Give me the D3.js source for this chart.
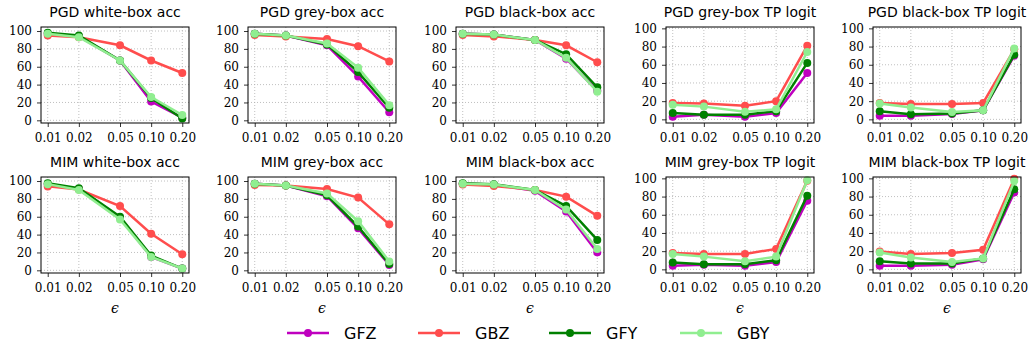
<!DOCTYPE html>
<html>
<head>
<meta charset="utf-8">
<script src="https://cdn.jsdelivr.net/npm/d3@7"></script>
<style>
  body { margin: 0; background: #fff; }
  svg { display: block; }
</style>
</head>
<body>
<svg id="chart" width="1028" height="348"></svg>
<script>
// epsilon values on the x axis
const eps = [0.01, 0.02, 0.05, 0.10, 0.20];
const seriesNames = ['GFZ', 'GBZ', 'GFY', 'GBY'];
const seriesColors = ['#bf00bf', '#ff4d4d', '#008000', '#90ee90'];
const yTicks = [0, 20, 40, 60, 80, 100];

const titles = [
  'PGD white-box acc', 'PGD grey-box acc', 'PGD black-box acc', 'PGD grey-box TP logit', 'PGD black-box TP logit',
  'MIM white-box acc', 'MIM grey-box acc', 'MIM black-box acc', 'MIM grey-box TP logit', 'MIM black-box TP logit'
];

// rows: GFZ, GBZ, GFY, GBY
const pgdWhiteAcc = [
  [97, 94, 67, 21, 3],
  [95, 93, 84, 67, 53],
  [98, 95, 67, 25, 2],
  [97, 93, 67, 26, 6]
];
const pgdGreyAcc = [
  [97, 95, 84, 49, 9],
  [95.5, 94, 91, 83, 66],
  [97, 95, 85, 54, 14],
  [97, 95, 86, 59, 17]
];
const pgdBlackAcc = [
  [97, 96, 90, 69, 33],
  [95.5, 94, 90, 84, 65],
  [97, 96, 90, 74, 37],
  [97, 96, 90, 70, 32]
];
const pgdGreyTP = [
  [3, 5, 3, 7, 51],
  [18, 17.5, 15, 20, 81],
  [7, 5, 5, 9, 62],
  [16, 14, 8.5, 11, 74]
];
const pgdBlackTP = [
  [4, 4, 6, 10, 70],
  [18, 17, 17, 18, 77],
  [9, 5.5, 6.5, 10, 71],
  [17.5, 13, 8, 10, 78]
];
const mimWhiteAcc = [
  [96, 91, 59, 15, 2],
  [94, 90.5, 72, 41, 18],
  [97.5, 92, 60, 16.5, 2],
  [96.5, 90, 57, 15, 2]
];
const mimGreyAcc = [
  [97, 95, 83, 47, 6],
  [95.5, 95, 91, 81.5, 51.5],
  [97, 95, 84, 49, 7],
  [97, 95, 86, 55, 10]
];
const mimBlackAcc = [
  [97, 96, 89, 66, 20],
  [96, 94.5, 90, 82.5, 61],
  [97.5, 96.5, 90, 72, 34],
  [97, 96, 90, 68, 24]
];
const mimGreyTP = [
  [4, 5, 4, 8, 75.5],
  [18, 17, 17, 22.5, 97.5],
  [7.5, 5.7, 5.7, 10, 81],
  [17, 14, 9, 14, 98]
];
const mimBlackTP = [
  [4, 4, 5, 11, 84.5],
  [19.5, 17, 18, 21.5, 99.5],
  [9, 6.4, 6.4, 12, 88],
  [18.5, 13, 8, 12, 97]
];

const panelData = [pgdWhiteAcc, pgdGreyAcc, pgdBlackAcc, pgdGreyTP, pgdBlackTP,
                   mimWhiteAcc, mimGreyAcc, mimBlackAcc, mimGreyTP, mimBlackTP];

const svg = d3.select('#chart');
const lefts = [41, 248, 456, 666, 873];
const tops = [27, 177];
const pw = 148, ph = 96;
const serif = '"DejaVu Serif", serif';
const sans = '"DejaVu Sans", sans-serif';

// log x with matplotlib-like 5% margins
const logPad = (Math.log10(0.2) - Math.log10(0.01)) * 0.05;
const x = d3.scaleLog()
  .domain([0.01 / Math.pow(10, logPad), 0.2 * Math.pow(10, logPad)])
  .range([0, pw]);

panelData.forEach((data, i) => {
  const row = Math.floor(i / 5), col = i % 5;
  const tp = col >= 3;
  const y = d3.scaleLinear()
    .domain(tp ? [-4, 101.5] : [-3, 104.5])
    .range([ph, 0]);

  const g = svg.append('g').attr('transform', `translate(${lefts[col]},${tops[row]})`);

  // dotted grid
  g.selectAll('.gx').data(eps).enter().append('line')
    .attr('x1', d => x(d)).attr('x2', d => x(d))
    .attr('y1', 0).attr('y2', ph)
    .attr('stroke', '#b0b0b0').attr('stroke-width', 0.8).attr('stroke-dasharray', '1,2');
  g.selectAll('.gy').data(yTicks).enter().append('line')
    .attr('x1', 0).attr('x2', pw)
    .attr('y1', d => y(d)).attr('y2', d => y(d))
    .attr('stroke', '#b0b0b0').attr('stroke-width', 0.8).attr('stroke-dasharray', '1,2');

  // series
  const line = d3.line().x((d, k) => x(eps[k])).y(d => y(d));
  data.forEach((vals, s) => {
    g.append('path')
      .attr('d', line(vals))
      .attr('fill', 'none')
      .attr('stroke', seriesColors[s])
      .attr('stroke-width', 2.5);
    g.selectAll(null).data(vals).enter().append('circle')
      .attr('cx', (d, k) => x(eps[k]))
      .attr('cy', d => y(d))
      .attr('r', 4)
      .attr('fill', seriesColors[s]);
  });

  // axes
  const ya = g.append('g')
    .call(d3.axisLeft(y).tickValues(yTicks).tickSize(4).tickPadding(5).tickSizeOuter(0));
  const xa = g.append('g').attr('transform', `translate(0,${ph})`)
    .call(d3.axisBottom(x).tickValues(eps).tickFormat(d3.format('.2f')).tickSize(4).tickPadding(6).tickSizeOuter(0));
  [ya, xa].forEach(a => {
    a.select('.domain').remove();
    a.selectAll('text').style('font-family', serif).style('font-size', '12px').attr('fill', '#000');
    a.selectAll('line').attr('stroke', '#000').attr('stroke-width', 0.8);
  });

  // spines
  g.append('rect')
    .attr('width', pw).attr('height', ph)
    .attr('fill', 'none').attr('stroke', '#000').attr('stroke-width', 1);

  g.append('text')
    .attr('x', pw / 2).attr('y', -10)
    .attr('text-anchor', 'middle')
    .style('font-family', sans).style('font-size', '14px')
    .text(titles[i]);

  if (row === 1) {
    g.append('text')
      .attr('x', pw / 2).attr('y', ph + 40)
      .attr('text-anchor', 'middle')
      .style('font-family', serif).style('font-style', 'italic').style('font-size', '14px')
      .text('\u03f5');
  }
});

// legend
const legend = svg.append('g').attr('transform', 'translate(287,333)');
seriesNames.forEach((name, s) => {
  const lg = legend.append('g').attr('transform', `translate(${s * 131},0)`);
  lg.append('line').attr('x1', 0).attr('x2', 42).attr('y1', 0).attr('y2', 0)
    .attr('stroke', seriesColors[s]).attr('stroke-width', 2.5);
  lg.append('circle').attr('cx', 21).attr('cy', 0).attr('r', 4).attr('fill', seriesColors[s]);
  lg.append('text').attr('x', 57).attr('y', 6)
    .style('font-family', sans).style('font-size', '16px')
    .text(name);
});
</script>
</body>
</html>
